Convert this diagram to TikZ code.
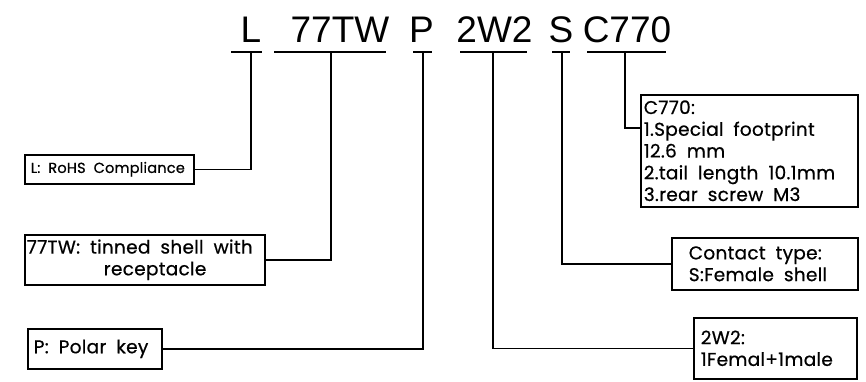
\documentclass[tikz,border=0pt]{standalone}
\usepackage{fontspec}
\setmainfont{Liberation Sans}
\newfontfamily\boxfont[LetterSpace=1.5,FakeBold=0.6]{Poppins}
\begin{document}
\begin{tikzpicture}[x=1pt,y=-1pt,
  code/.style={font=\fontsize{37}{37}\selectfont, anchor=base, inner sep=0pt},
  box/.style={draw, line width=1.6pt, anchor=north west, inner ysep=0pt, align=left,
    font=\boxfont\fontsize{18.5}{21.75}\selectfont,
    execute at begin node={\spaceskip=10pt plus 1pt\relax}},
  link/.style={line width=1.5pt}]
\useasboundingbox (0,0) rectangle (866,382);
% top code
\node[code] (tL) at (251,42.5) {L};
\node[code] (tT) at (340,42.5) {77TW};
\node[code] (tP) at (421.5,42.5) {P};
\node[code] (tW) at (494.5,42.5) {2W2};
\node[code] (tS) at (561,42.5) {S};
\node[code] (tC) at (627,42.5) {C770};
% underlines
\draw[link] (231,52) -- (262,52);
\draw[link] (274,52) -- (386,52);
\draw[link] (413,52) -- (432,52);
\draw[link] (460,52) -- (527,52);
\draw[link] (552,52) -- (570,52);
\draw[link] (587,52) -- (666,52);
\coordinate (uL) at (251,52);
\coordinate (uT) at (331,52);
\coordinate (uP) at (423,52);
\coordinate (uW) at (493,52);
\coordinate (uS) at (562,52);
\coordinate (uC) at (625,52);
% boxes
\node[box, inner xsep=6pt, text width=157pt, minimum height=29pt,
  font=\boxfont\fontsize{14.5}{17}\selectfont,
  execute at begin node={\spaceskip=8pt plus 1pt\relax}] (lbox) at (24,154) {L: RoHS Compliance};
\node[box, inner xsep=2pt, text width=236pt, minimum height=50pt] (twbox) at (24,234)
  {77TW: tinned shell with\\\hspace*{77pt}receptacle};
\node[box, inner xsep=6pt, text width=122pt, minimum height=40pt] (pbox) at (27,328) {P: Polar key};
\node[box, inner xsep=3pt, text width=211pt, minimum height=112pt] (cbox) at (640,94)
  {C770:\\1.Special footprint\\12.6 mm\\2.tail length 10.1mm\\3.rear screw M3};
\node[box, inner xsep=17pt, text width=152pt, minimum height=52pt] (ctbox) at (671,237)
  {Contact type:\\S:Female shell};
\node[box, inner xsep=7pt, text width=149pt, minimum height=61pt] (wbox) at (693,317)
  {2W2:\\1Femal+1male};
\coordinate (cIn) at (640,128);
% connectors
\draw[link] (lbox.east) -| (uL);
\draw[link] (twbox.east) -| (uT);
\draw[link] (pbox.east) -| (uP);
\draw[link] (uC) |- (cIn);
\draw[link] (uS) |- (ctbox.west);
\draw[link] (uW) |- (wbox.west);
\end{tikzpicture}
\end{document}
